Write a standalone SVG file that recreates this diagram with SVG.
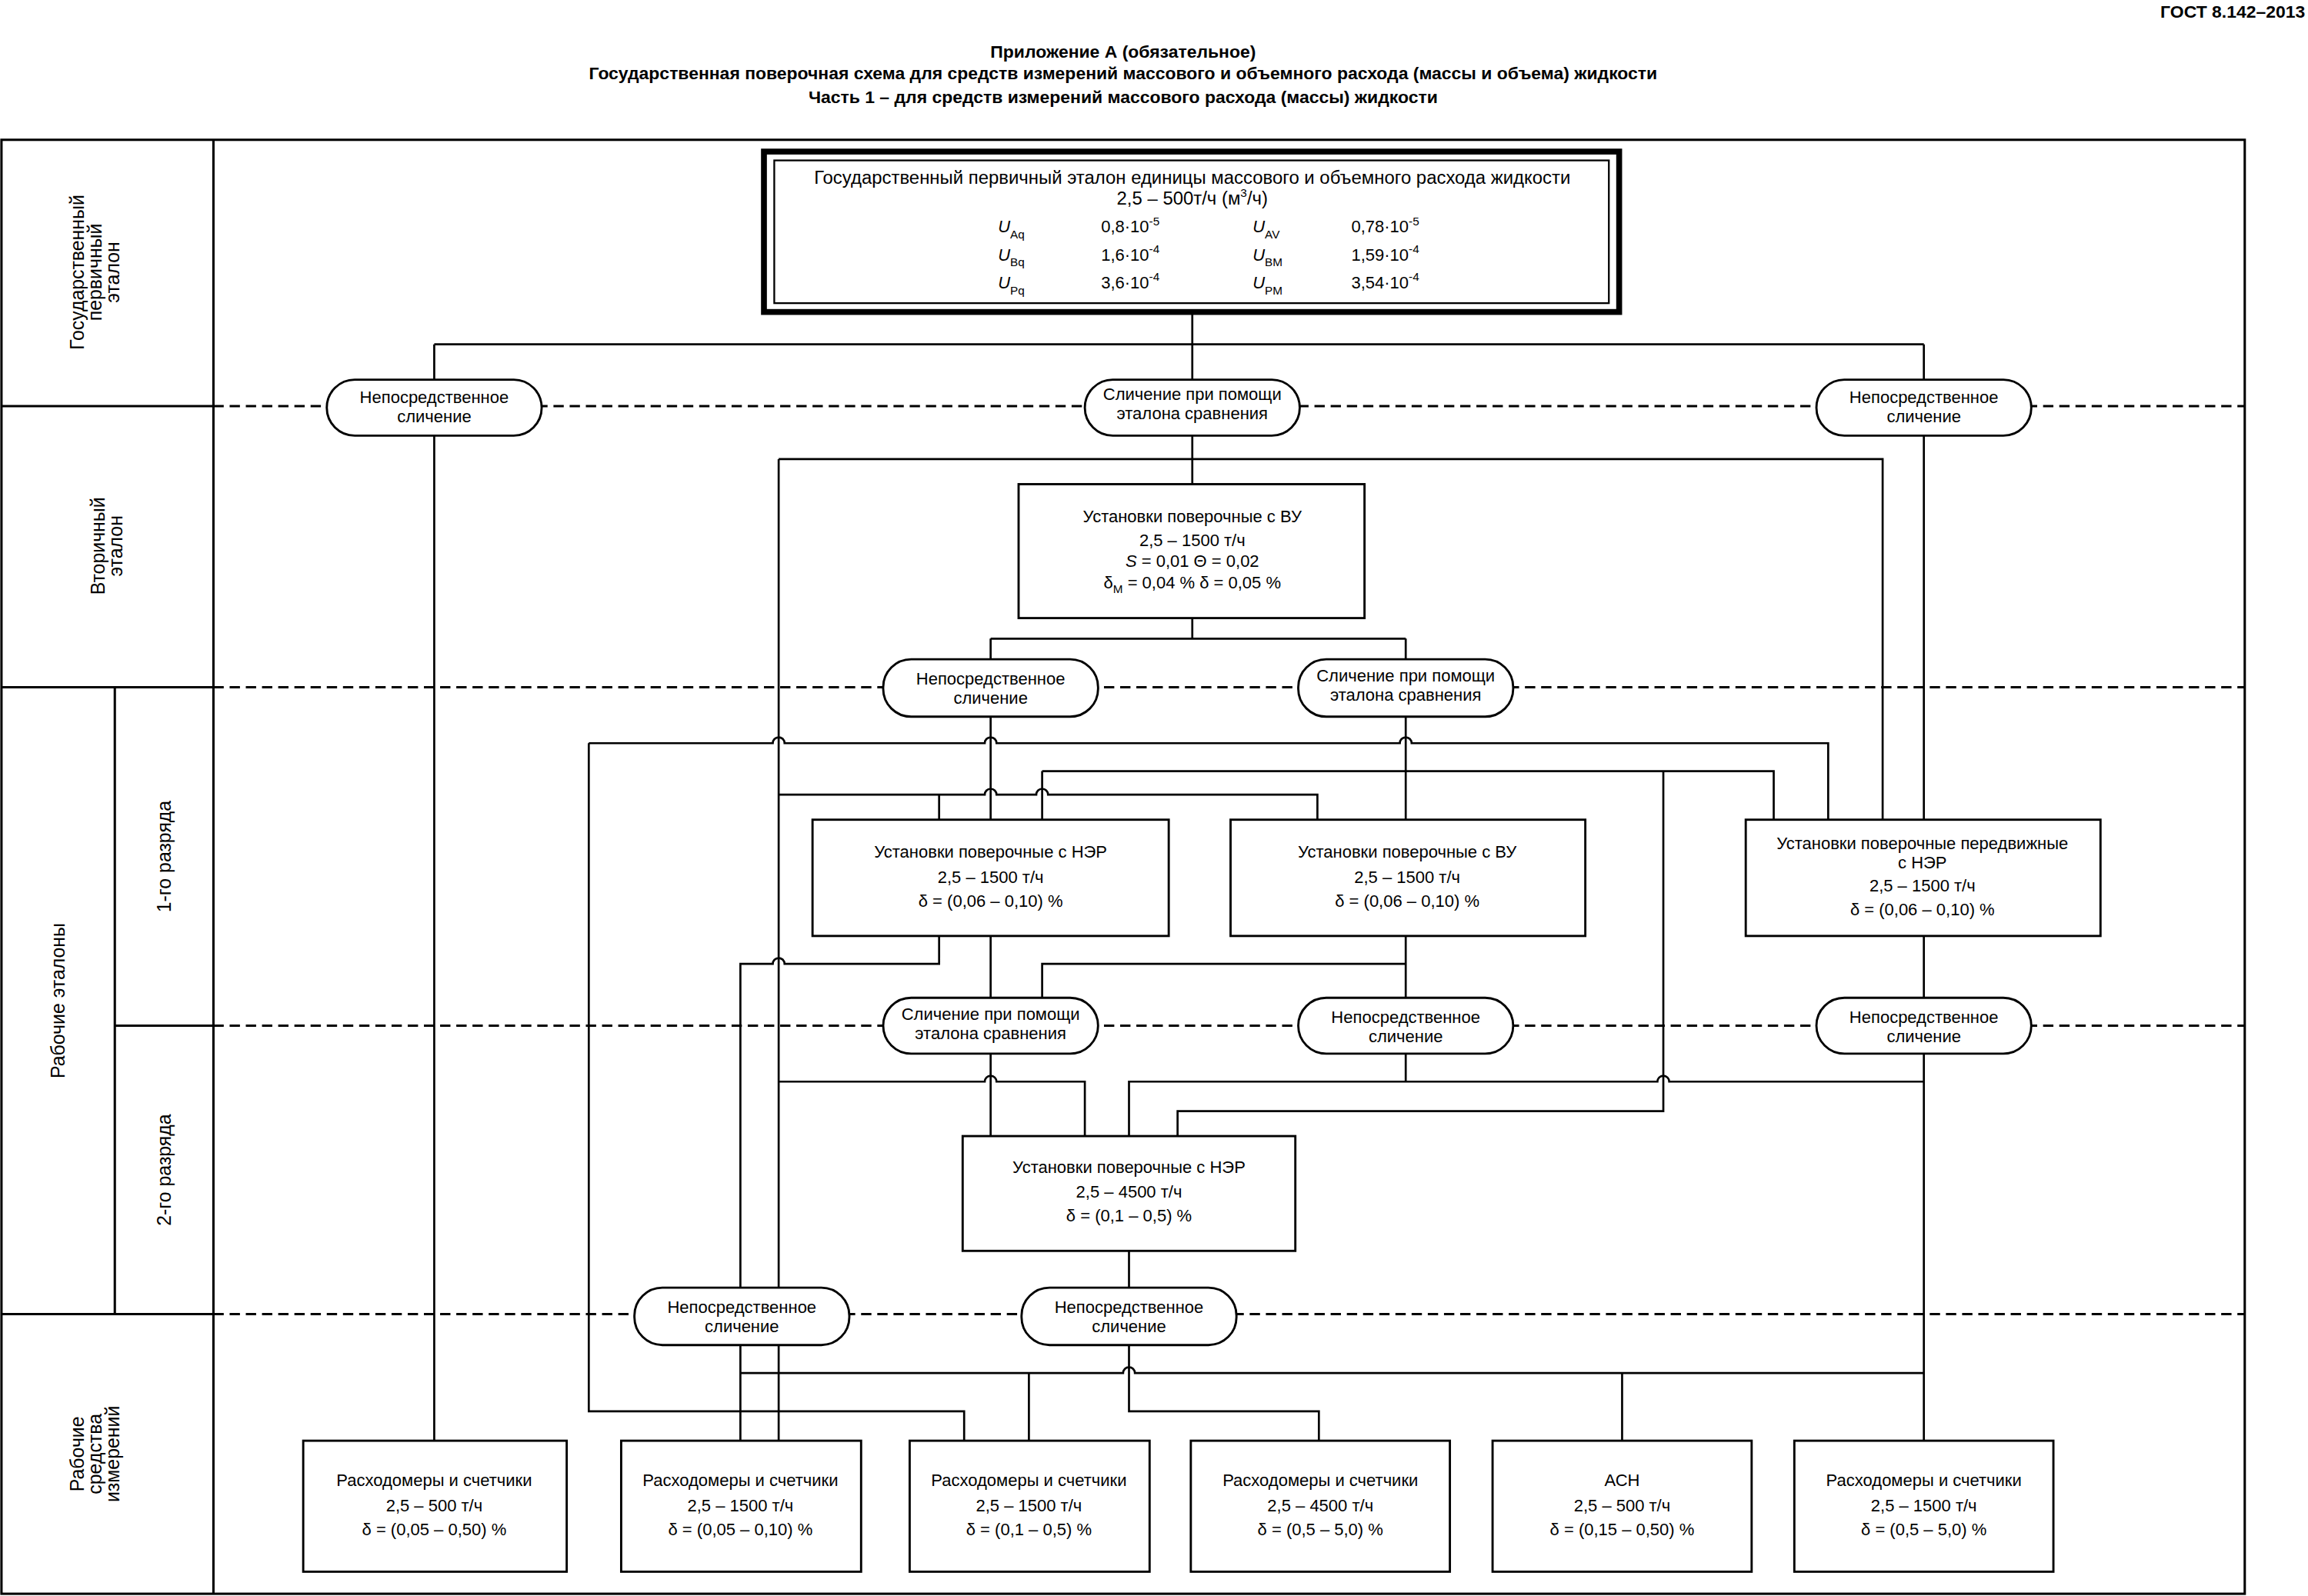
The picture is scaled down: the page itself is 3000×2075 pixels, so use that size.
<svg xmlns="http://www.w3.org/2000/svg" width="3000" height="2075" viewBox="0 0 3000 2075">
<style>
text{font-family:"Liberation Sans",Arial,sans-serif;font-size:11.5px;fill:#000;text-anchor:middle}
.b{font-weight:bold;font-size:12px}
.l{text-anchor:start}
.r{font-size:13px}
.box{fill:#fff;stroke:#000;stroke-width:1.5}
.ov{fill:#fff;stroke:#000;stroke-width:1.5}
.ln{fill:none;stroke:#000;stroke-width:1.4}
.fr{fill:none;stroke:#000;stroke-width:1.6}
.dash{fill:none;stroke:#000;stroke-width:1.6;stroke-dasharray:7 4}
.s{font-size:8px}
</style>
<rect width="3000" height="2075" fill="#fff"/>
<g transform="scale(1.9133)">
<g id="titles">
<text class="b" x="1566" y="12" style="text-anchor:end">ГОСТ 8.142–2013</text>
<text class="b" x="763" y="39">Приложение А (обязательное)</text>
<text class="b" x="763" y="54">Государственная поверочная схема для средств измерений массового и объемного расхода (массы и объема) жидкости</text>
<text class="b" x="763" y="70">Часть 1 – для средств измерений массового расхода (массы) жидкости</text>
</g>
<g id="frame">
<rect class="fr" x="1" y="95" width="1524" height="988"/>
<line class="fr" x1="145" y1="95" x2="145" y2="1083"/>
<line class="fr" x1="78" y1="467" x2="78" y2="893"/>
<line class="fr" x1="1" y1="276" x2="145" y2="276"/>
<line class="fr" x1="1" y1="467" x2="145" y2="467"/>
<line class="fr" x1="78" y1="697" x2="145" y2="697"/>
<line class="fr" x1="1" y1="893" x2="145" y2="893"/>
<line class="dash" x1="145" y1="276" x2="1525" y2="276"/>
<line class="dash" x1="145" y1="467" x2="1525" y2="467"/>
<line class="dash" x1="145" y1="697" x2="1525" y2="697"/>
<line class="dash" x1="145" y1="893" x2="1525" y2="893"/>
<text class="r" transform="translate(65,185) rotate(-90)"><tspan x="0" y="-8">Государственный</tspan><tspan x="0" y="4">первичный</tspan><tspan x="0" y="16">эталон</tspan></text>
<text class="r" transform="translate(73,371) rotate(-90)"><tspan x="0" y="-2">Вторичный</tspan><tspan x="0" y="10">эталон</tspan></text>
<text class="r" transform="translate(44,680) rotate(-90)">Рабочие эталоны</text>
<text class="r" transform="translate(116,582) rotate(-90)">1-го разряда</text>
<text class="r" transform="translate(116,795) rotate(-90)">2-го разряда</text>
<text class="r" transform="translate(65,988) rotate(-90)"><tspan x="0" y="-8">Рабочие</tspan><tspan x="0" y="4">средства</tspan><tspan x="0" y="16">измерений</tspan></text>
</g>
<g id="connectors">
<path class="ln" d="M810 212V329M295 234H1307M295 234V979M1307 234V557M529 312H1279V557M529 312V979"/>
<path class="ln" d="M810 420V434M673 434H955M673 434V557M955 434V557"/>
<path class="ln" d="M400 505H525a4 4 0 0 1 8 0H669a4 4 0 0 1 8 0H951a4 4 0 0 1 8 0H1242V557M400 505V959H655V979"/>
<path class="ln" d="M708 524H1205V557M708 524V557M1130 524V755H800V772"/>
<path class="ln" d="M529 540H669a4 4 0 0 1 8 0H704a4 4 0 0 1 8 0H895V557M638 540V557"/>
<path class="ln" d="M638 636V655H533a4 4 0 0 0 -8 0H503V876M673 636V772M955 636V735M708 679V655H955M1307 636V979"/>
<path class="ln" d="M529 735H669a4 4 0 0 1 8 0H737V772M767 772V735H1126a4 4 0 0 1 8 0H1307"/>
<path class="ln" d="M767 850V959H896V979M503 914V979M503 933H763a4 4 0 0 1 8 0H1307M699 933V979M1102 933V979"/>
</g>
<g id="primary">
<rect x="519" y="103" width="581" height="109" fill="#fff" stroke="#000" stroke-width="4"/>
<rect x="526" y="109" width="567" height="97" fill="none" stroke="#000" stroke-width="1.2"/>
<text x="810" y="125" style="font-size:12.5px">Государственный первичный эталон единицы массового и объемного расхода жидкости</text>
<text x="810" y="139" style="font-size:12.5px">2,5 – 500т/ч (м<tspan class="s" dy="-5">3</tspan><tspan dy="5">/ч)</tspan></text>
<text class="l" x="678" y="158"><tspan font-style="italic">U</tspan><tspan class="s" dy="4">Aq</tspan></text>
<text class="l" x="748" y="158">0,8·10<tspan class="s" dy="-5">-5</tspan></text>
<text class="l" x="851" y="158"><tspan font-style="italic">U</tspan><tspan class="s" dy="4">AV</tspan></text>
<text class="l" x="918" y="158">0,78·10<tspan class="s" dy="-5">-5</tspan></text>
<text class="l" x="678" y="177"><tspan font-style="italic">U</tspan><tspan class="s" dy="4">Bq</tspan></text>
<text class="l" x="748" y="177">1,6·10<tspan class="s" dy="-5">-4</tspan></text>
<text class="l" x="851" y="177"><tspan font-style="italic">U</tspan><tspan class="s" dy="4">BM</tspan></text>
<text class="l" x="918" y="177">1,59·10<tspan class="s" dy="-5">-4</tspan></text>
<text class="l" x="678" y="196"><tspan font-style="italic">U</tspan><tspan class="s" dy="4">Pq</tspan></text>
<text class="l" x="748" y="196">3,6·10<tspan class="s" dy="-5">-4</tspan></text>
<text class="l" x="851" y="196"><tspan font-style="italic">U</tspan><tspan class="s" dy="4">PM</tspan></text>
<text class="l" x="918" y="196">3,54·10<tspan class="s" dy="-5">-4</tspan></text>
</g>
<g id="ovals">
<g id="o1"><rect class="ov" x="222" y="258" width="146" height="38" rx="19"/><text x="295" y="274">Непосредственное</text><text x="295" y="287">сличение</text></g>
<g id="o2"><rect class="ov" x="737" y="258" width="146" height="38" rx="19"/><text x="810" y="272">Сличение при помощи</text><text x="810" y="285">эталона сравнения</text></g>
<g id="o3"><rect class="ov" x="1234" y="258" width="146" height="38" rx="19"/><text x="1307" y="274">Непосредственное</text><text x="1307" y="287">сличение</text></g>
<g id="o4"><rect class="ov" x="600" y="448" width="146" height="39" rx="19"/><text x="673" y="465">Непосредственное</text><text x="673" y="478">сличение</text></g>
<g id="o5"><rect class="ov" x="882" y="448" width="146" height="39" rx="19"/><text x="955" y="463">Сличение при помощи</text><text x="955" y="476">эталона сравнения</text></g>
<g id="o6"><rect class="ov" x="600" y="678" width="146" height="38" rx="19"/><text x="673" y="693">Сличение при помощи</text><text x="673" y="706">эталона сравнения</text></g>
<g id="o7"><rect class="ov" x="882" y="678" width="146" height="38" rx="19"/><text x="955" y="695">Непосредственное</text><text x="955" y="708">сличение</text></g>
<g id="o8"><rect class="ov" x="1234" y="678" width="146" height="38" rx="19"/><text x="1307" y="695">Непосредственное</text><text x="1307" y="708">сличение</text></g>
<g id="o9"><rect class="ov" x="431" y="875" width="146" height="39" rx="19"/><text x="504" y="892">Непосредственное</text><text x="504" y="905">сличение</text></g>
<g id="o10"><rect class="ov" x="694" y="875" width="146" height="39" rx="19"/><text x="767" y="892">Непосредственное</text><text x="767" y="905">сличение</text></g>
</g>
<g id="vu2">
<rect class="box" x="692" y="329" width="235" height="91"/>
<text x="810" y="355">Установки поверочные с ВУ</text>
<text x="810" y="371">2,5 – 1500 т/ч</text>
<text x="810" y="385"><tspan font-style="italic">S</tspan> = 0,01     Θ = 0,02</text>
<text x="810" y="400">δ<tspan class="s" dy="3">М</tspan><tspan dy="-3"> = 0,04 %      δ = 0,05 %</tspan></text>
</g>
<g id="ner1"><rect class="box" x="552" y="557" width="242" height="79"/><text x="673" y="583">Установки поверочные с НЭР</text><text x="673" y="600">2,5 – 1500 т/ч</text><text x="673" y="616">δ = (0,06 – 0,10) %</text></g>
<g id="vu1"><rect class="box" x="836" y="557" width="241" height="79"/><text x="956" y="583">Установки поверочные с ВУ</text><text x="956" y="600">2,5 – 1500 т/ч</text><text x="956" y="616">δ = (0,06 – 0,10) %</text></g>
<g id="mob1"><rect class="box" x="1186" y="557" width="241" height="79"/><text x="1306" y="577">Установки поверочные передвижные</text><text x="1306" y="590">с НЭР</text><text x="1306" y="606">2,5 – 1500 т/ч</text><text x="1306" y="622">δ = (0,06 – 0,10) %</text></g>
<g id="ner2"><rect class="box" x="654" y="772" width="226" height="78"/><text x="767" y="797">Установки поверочные с НЭР</text><text x="767" y="814">2,5 – 4500 т/ч</text><text x="767" y="830">δ = (0,1 – 0,5) %</text></g>
<g id="w1"><rect class="box" x="206" y="979" width="179" height="89"/><text x="295" y="1010">Расходомеры и счетчики</text><text x="295" y="1027">2,5 – 500 т/ч</text><text x="295" y="1043">δ = (0,05 – 0,50) %</text></g>
<g id="w2"><rect class="box" x="422" y="979" width="163" height="89"/><text x="503" y="1010">Расходомеры и счетчики</text><text x="503" y="1027">2,5 – 1500 т/ч</text><text x="503" y="1043">δ = (0,05 – 0,10) %</text></g>
<g id="w3"><rect class="box" x="618" y="979" width="163" height="89"/><text x="699" y="1010">Расходомеры и счетчики</text><text x="699" y="1027">2,5 – 1500 т/ч</text><text x="699" y="1043">δ = (0,1 – 0,5) %</text></g>
<g id="w4"><rect class="box" x="809" y="979" width="176" height="89"/><text x="897" y="1010">Расходомеры и счетчики</text><text x="897" y="1027">2,5 – 4500 т/ч</text><text x="897" y="1043">δ = (0,5 – 5,0) %</text></g>
<g id="w5"><rect class="box" x="1014" y="979" width="176" height="89"/><text x="1102" y="1010">АСН</text><text x="1102" y="1027">2,5 – 500 т/ч</text><text x="1102" y="1043">δ = (0,15 – 0,50) %</text></g>
<g id="w6"><rect class="box" x="1219" y="979" width="176" height="89"/><text x="1307" y="1010">Расходомеры и счетчики</text><text x="1307" y="1027">2,5 – 1500 т/ч</text><text x="1307" y="1043">δ = (0,5 – 5,0) %</text></g>
</g>
</svg>
